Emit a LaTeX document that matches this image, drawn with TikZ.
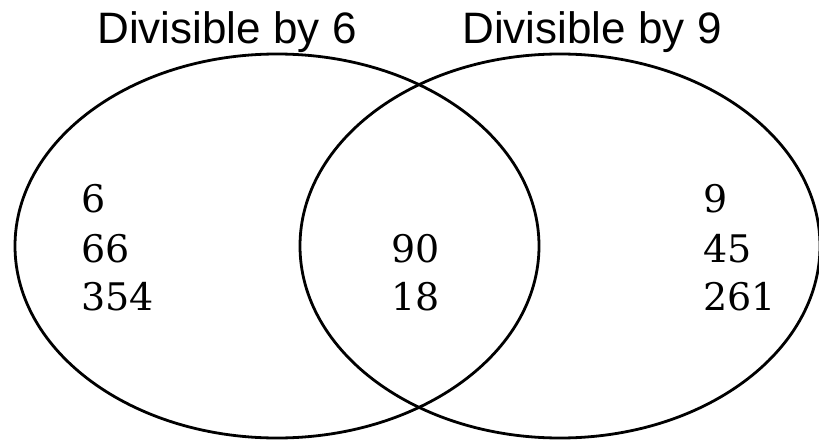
\documentclass[tikz,border=0pt]{standalone}
\usepackage{fontspec}
\setmainfont{DejaVu Serif}
\newfontfamily\labelfont{Liberation Sans}
\begin{document}
\begin{tikzpicture}[x=1pt,y=-1pt,
  setcircle/.style={draw=black,line width=2.8pt},
  setlabel/.style={font=\labelfont\fontsize{44}{52}\selectfont,anchor=base,inner sep=0pt},
  member/.style={font=\fontsize{38}{46}\selectfont,anchor=base west,inner sep=0pt,align=left}]
\useasboundingbox (0,0) rectangle (819,441);
\draw[setcircle] (277,246) ellipse [x radius=262, y radius=192];
\draw[setcircle] (560,246) ellipse [x radius=260, y radius=192];
\node[setlabel] (lab6) at (227,44) {Divisible by 6};
\node[setlabel] (lab9) at (592,44) {Divisible by 9};
\node[member] (a1) at (81,212) {6};
\node[member] (a2) at (81,262) {66};
\node[member] (a3) at (81,310) {354};
\node[member] (b1) at (391,262) {90};
\node[member] (b2) at (391,310) {18};
\node[member] (c1) at (703,212) {9};
\node[member] (c2) at (703,262) {45};
\node[member] (c3) at (703,310) {261};
\end{tikzpicture}
\end{document}
